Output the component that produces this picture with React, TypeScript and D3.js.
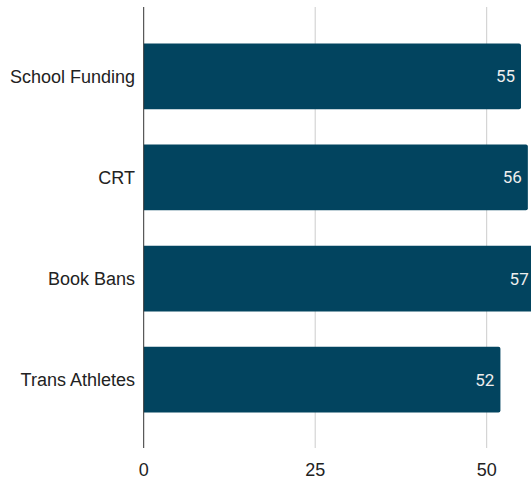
import React, { useEffect, useRef } from "react";
import * as d3 from "d3";

const categories = ["School Funding", "CRT", "Book Bans", "Trans Athletes"];
const values = [55, 56, 57, 52];
const tickValues = [0, 25, 50];

const W = 531;
const H = 479;

export default function App() {
  const ref = useRef<SVGSVGElement | null>(null);
  useEffect(() => {
    document.body.style.margin = "0";
    const svg = d3.select(ref.current);
    svg.selectAll("*").remove();
    const x = d3.scaleLinear().domain([0, 50]).range([143.7, 486.7]);
    const y = d3
      .scaleBand<string>()
      .domain(categories)
      .range([7, 449])
      .paddingInner(0.35)
      .paddingOuter(0.36);
    const font = "Roboto, Arial, sans-serif";
    const arial = "'Liberation Sans', Arial, sans-serif";

    // gridlines
    svg
      .append("g")
      .selectAll("line")
      .data(tickValues.filter((t) => t !== 0))
      .join("line")
      .attr("x1", (d) => x(d))
      .attr("x2", (d) => x(d))
      .attr("y1", 7)
      .attr("y2", 448)
      .attr("stroke", "#cccccc")
      .attr("stroke-width", 1);

    // bars
    svg
      .append("g")
      .selectAll("path")
      .data(categories)
      .join("path")
      .attr("d", (c, i) => {
        const x0 = x(0);
        const x1 = x(values[i]);
        const y0 = y(c)!;
        const h = y.bandwidth();
        const r = 2;
        return `M${x0},${y0}H${x1 - r}Q${x1},${y0} ${x1},${y0 + r}V${y0 + h - r}Q${x1},${y0 + h} ${x1 - r},${y0 + h}H${x0}Z`;
      })
      .attr("fill", "#02445f");

    // axis line
    svg
      .append("line")
      .attr("x1", x(0))
      .attr("x2", x(0))
      .attr("y1", 7)
      .attr("y2", 448)
      .attr("stroke", "#333333")
      .attr("stroke-width", 1);

    // value labels
    svg
      .append("g")
      .selectAll("text")
      .data(categories)
      .join("text")
      .attr("x", (c, i) => x(values[i]) - 6)
      .attr("y", (c) => y(c)! + y.bandwidth() / 2)
      .attr("dy", "0.35em")
      .attr("text-anchor", "end")
      .attr("fill", "#eeeeee")
      .attr("font-family", font)
      .attr("font-size", 17)
      .text((c, i) => String(values[i]));

    // category labels
    svg
      .append("g")
      .selectAll("text")
      .data(categories)
      .join("text")
      .attr("x", 135)
      .attr("y", (c) => y(c)! + y.bandwidth() / 2)
      .attr("dy", "0.35em")
      .attr("text-anchor", "end")
      .attr("fill", "#222222")
      .attr("font-family", arial)
      .attr("font-size", 18)
      .text((c) => c);

    // tick labels
    svg
      .append("g")
      .selectAll("text")
      .data(tickValues)
      .join("text")
      .attr("x", (d) => x(d))
      .attr("y", 470)
      .attr("dy", "0.35em")
      .attr("text-anchor", "middle")
      .attr("fill", "#222222")
      .attr("font-family", arial)
      .attr("font-size", 18)
      .text((d) => String(d));
  }, []);
  return (
    <svg
      ref={ref}
      width={W}
      height={H}
      style={{ position: "absolute", left: 0, top: 0, background: "#ffffff" }}
    />
  );
}
